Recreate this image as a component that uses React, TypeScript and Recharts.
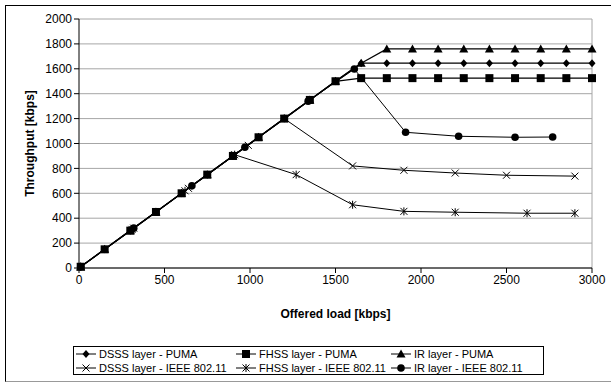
import React from "react";
import { LineChart, Line, XAxis, YAxis, CartesianGrid, ReferenceLine } from "recharts";

const pumaLoad = [10, 150, 300, 450, 600, 750, 900, 1050, 1200, 1350, 1500, 1650, 1800, 1950, 2100, 2250, 2400, 2550, 2700, 2850, 3000];
const dsssPuma = [10, 150, 300, 450, 600, 750, 900, 1050, 1200, 1350, 1500, 1645, 1645, 1645, 1645, 1645, 1645, 1645, 1645, 1645, 1645];
const fhssPuma = [10, 150, 300, 450, 600, 750, 900, 1050, 1200, 1350, 1500, 1525, 1525, 1525, 1525, 1525, 1525, 1525, 1525, 1525, 1525];
const irPuma = [10, 150, 300, 450, 600, 750, 900, 1050, 1200, 1350, 1500, 1645, 1760, 1760, 1760, 1760, 1760, 1760, 1760, 1760, 1760];

const dsssIeeeLoad = [10, 320, 640, 990, 1200, 1600, 1900, 2200, 2500, 2900];
const dsssIeee = [10, 320, 640, 985, 1200, 820, 785, 763, 745, 738];
const fhssIeeeLoad = [10, 310, 620, 910, 1270, 1600, 1900, 2200, 2620, 2900];
const fhssIeee = [10, 310, 620, 910, 750, 508, 455, 448, 440, 440];
const irIeeeLoad = [10, 320, 660, 970, 1340, 1610, 1910, 2220, 2550, 2770];
const irIeee = [10, 320, 660, 970, 1340, 1598, 1090, 1058, 1050, 1052];

const xTicks = [0, 500, 1000, 1500, 2000, 2500, 3000];
const yTicks = [0, 200, 400, 600, 800, 1000, 1200, 1400, 1600, 1800, 2000];

type Shape = "diamond" | "square" | "triangle" | "cross" | "star" | "circle";

const series: { name: string; shape: Shape; load: number[]; values: number[]; width: number }[] = [
  { name: "DSSS layer - PUMA", shape: "diamond", load: pumaLoad, values: dsssPuma, width: 1.3 },
  { name: "FHSS layer - PUMA", shape: "square", load: pumaLoad, values: fhssPuma, width: 1.3 },
  { name: "IR layer - PUMA", shape: "triangle", load: pumaLoad, values: irPuma, width: 1.3 },
  { name: "DSSS layer - IEEE 802.11", shape: "cross", load: dsssIeeeLoad, values: dsssIeee, width: 1 },
  { name: "FHSS layer - IEEE 802.11", shape: "star", load: fhssIeeeLoad, values: fhssIeee, width: 1 },
  { name: "IR layer - IEEE 802.11", shape: "circle", load: irIeeeLoad, values: irIeee, width: 1 },
];

const font = "'Liberation Sans', Arial, sans-serif";

function marker(shape: Shape, cx: number, cy: number, key?: string | number) {
  switch (shape) {
    case "diamond":
      return <path key={key} d={`M${cx},${cy - 4}L${cx + 3.5},${cy}L${cx},${cy + 4}L${cx - 3.5},${cy}Z`} fill="#000" />;
    case "square":
      return <rect key={key} x={cx - 4} y={cy - 4} width={8} height={8} fill="#000" />;
    case "triangle":
      return <path key={key} d={`M${cx},${cy - 4.5}L${cx + 4.5},${cy + 3.5}L${cx - 4.5},${cy + 3.5}Z`} fill="#000" />;
    case "cross":
      return (
        <path key={key} d={`M${cx - 3.5},${cy - 3.5}L${cx + 3.5},${cy + 3.5}M${cx + 3.5},${cy - 3.5}L${cx - 3.5},${cy + 3.5}`} stroke="#000" strokeWidth={1} fill="none" />
      );
    case "star":
      return (
        <path
          key={key}
          d={`M${cx - 3.5},${cy - 3.5}L${cx + 3.5},${cy + 3.5}M${cx + 3.5},${cy - 3.5}L${cx - 3.5},${cy + 3.5}M${cx},${cy - 4}L${cx},${cy + 4}`}
          stroke="#000"
          strokeWidth={1}
          fill="none"
        />
      );
    case "circle":
      return <circle key={key} cx={cx} cy={cy} r={3.8} fill="#000" />;
  }
}

function LegendItem({ name, shape }: { name: string; shape: Shape }) {
  return (
    <div style={{ display: "flex", alignItems: "center", height: 14 }}>
      <svg width={22} height={12} style={{ marginRight: 2 }}>
        <line x1={1} y1={6} x2={21} y2={6} stroke="#000" strokeWidth={1} />
        {marker(shape, 11, 6)}
      </svg>
      <span>{name}</span>
    </div>
  );
}

export default function App() {
  return (
    <div style={{ position: "absolute", left: 0, top: 0, width: 611, height: 383, background: "#fff", overflow: "hidden", fontFamily: font }}>
      <div
        style={{
          position: "absolute",
          left: 5,
          top: 5,
          width: 620,
          height: 375,
          borderLeft: "1px solid #000",
          borderTop: "1px solid #000",
          borderBottom: "1px solid #999",
        }}
      />
      <div style={{ position: "absolute", left: 0, top: 0 }}>
        <LineChart width={611} height={383} margin={{ top: 19, right: 19, left: 0, bottom: 65 }}>
          <CartesianGrid vertical={false} stroke="#a6a6a6" strokeWidth={1} />
          <ReferenceLine x={3000} stroke="#a6a6a6" />
          <XAxis
            type="number"
            dataKey="x"
            domain={[0, 3000]}
            ticks={xTicks}
            allowDuplicatedCategory={false}
            axisLine={{ stroke: "#000" }}
            tickLine={{ stroke: "#000" }}
            tickSize={5}
            height={50}
            tick={{ fontSize: 12, fill: "#000", fontFamily: font }}
            label={{ value: "Offered load [kbps]", position: "insideBottom", offset: 0, style: { fontSize: 12, fontWeight: "bold", fill: "#000", fontFamily: font } }}
          />
          <YAxis
            type="number"
            domain={[0, 2000]}
            ticks={yTicks}
            width={79}
            axisLine={{ stroke: "#000" }}
            tickLine={{ stroke: "#000" }}
            tickSize={5}
            tick={{ fontSize: 12, fill: "#000", fontFamily: font }}
            label={{ value: "Throughput [kbps]", angle: -90, position: "center", dx: -10, style: { fontSize: 12, fontWeight: "bold", fill: "#000", fontFamily: font } }}
          />
          {series.map((s) => (
            <Line
              key={s.name}
              name={s.name}
              data={s.load.map((x, i) => ({ x, y: s.values[i] }))}
              dataKey="y"
              type="linear"
              stroke="#000"
              strokeWidth={s.width}
              isAnimationActive={false}
              activeDot={false}
              dot={(p: any) => marker(s.shape, p.cx, p.cy, p.index) as any}
            />
          ))}
        </LineChart>
      </div>
      <div
        style={{
          position: "absolute",
          left: 73,
          top: 346,
          width: 468,
          height: 27,
          border: "1px solid #000",
          fontSize: 11,
          color: "#000",
          display: "grid",
          gridTemplateColumns: "160px 155px 150px",
          paddingLeft: 1,
          alignContent: "center",
        }}
      >
        {series.map((s) => (
          <LegendItem key={s.name} name={s.name} shape={s.shape} />
        ))}
      </div>
    </div>
  );
}
